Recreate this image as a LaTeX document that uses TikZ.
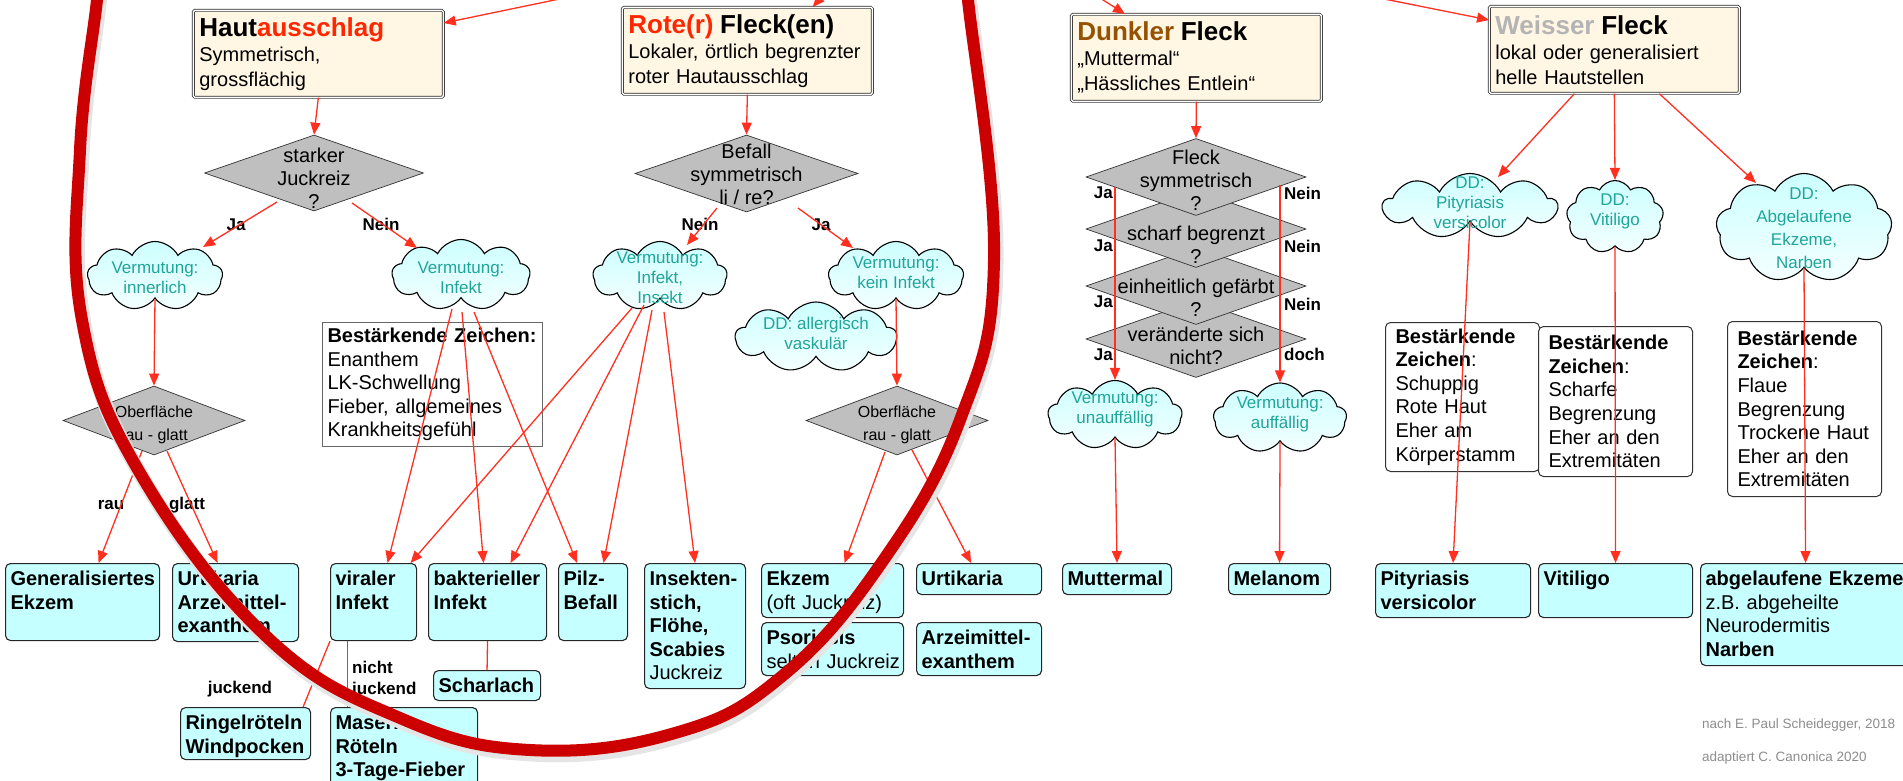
\documentclass[tikz,border=0pt]{standalone}
\usepackage{fontspec}
\setmainfont{Liberation Sans}
\usepackage{xcolor}
\usetikzlibrary{shapes.geometric,shapes.symbols,arrows.meta,calc}

\definecolor{titelrot}{RGB}{255,38,0}
\definecolor{braun}{RGB}{150,82,0}
\definecolor{hellgrau}{RGB}{180,180,180}
\definecolor{creme}{RGB}{255,246,228}
\definecolor{rautegrau}{RGB}{191,191,191}
\definecolor{kastencyan}{RGB}{198,255,255}
\definecolor{wolkeoben}{RGB}{204,255,255}
\definecolor{wolkeunten}{RGB}{244,255,255}
\definecolor{tuerkis}{RGB}{32,165,155}
\definecolor{pfeilrot}{RGB}{255,48,32}
\definecolor{bogenrot}{RGB}{204,0,0}

\newcommand{\kopftitel}{\fontsize{26}{28}\selectfont\bfseries}
\hyphenpenalty=10000
\exhyphenpenalty=10000

\begin{document}
\begin{tikzpicture}[x=1pt, y=-1pt,
        kopf/.style = {rectangle, draw=black!85, line width=0.7pt, double=white, double distance=1.4pt, fill=creme, rounded corners=1.5pt, anchor=north west, inner xsep=6pt, inner ysep=0pt, text width=238pt, minimum height=87pt, align=left, font=\fontsize{20}{25}\selectfont},
        frage/.style = {diamond, draw=black!80, line width=0.7pt, fill=rautegrau, inner sep=0pt, minimum width=220pt, minimum height=77pt},
        ftext/.style = {align=center, inner sep=0pt, font=\fontsize{20}{23}\selectfont},
        wolke/.style = {cloud, cloud puffs=9, cloud puff arc=125, cloud ignores aspect, draw=black, line width=1.1pt, top color=wolkeoben, bottom color=wolkeunten, inner sep=0pt},
        wtext/.style = {align=center, inner sep=0pt, text=tuerkis, font=\fontsize{17}{20}\selectfont},
        zeichen/.style = {rectangle, draw=black!80, line width=1pt, fill=white, rounded corners=5pt, anchor=north west, inner xsep=10pt, inner ysep=0pt, text width=134pt, align=left, font=\fontsize{20}{23.6}\selectfont},
        kasten/.style = {rectangle, draw=black!85, line width=1.1pt, fill=kastencyan, rounded corners=5pt, anchor=north west, inner xsep=5pt, inner ysep=7pt, text height=15pt, text depth=#1, align=left, font=\fontsize{20}{23.5}\selectfont\bfseries},
        jn/.style = {inner sep=0pt, font=\fontsize{17}{21}\selectfont\bfseries},
        pfeil/.style = {draw=pfeilrot, line width=1.3pt, -{Triangle[length=12pt, width=10pt]}},
        linie/.style = {draw=pfeilrot, line width=1.3pt},
        fuss/.style = {inner sep=0pt, anchor=base west, text=black!45, font=\fontsize{13.5}{16}\selectfont}]

    \useasboundingbox (0,0) rectangle (1903,781);
    \clip (0,0) rectangle (1903,781);

    % Kopfkaesten
    \node[kopf] (haut) at (193,10) {{\kopftitel Haut\textcolor{titelrot}{ausschlag}}\\Symmetrisch,\\grossflächig};
    \node[kopf] (rot) at (622,7) {{\kopftitel\textcolor{titelrot}{Rote(r)} Fleck(en)}\\Lokaler, örtlich begrenzter\\roter Hautausschlag};
    \node[kopf] (dunkel) at (1071,14) {{\kopftitel\textcolor{braun}{Dunkler} Fleck}\\„Muttermal“\\„Hässliches Entlein“};
    \node[kopf] (weiss) at (1489,6) {{\kopftitel\textcolor{hellgrau}{Weisser} Fleck}\\lokal oder generalisiert\\helle Hautstellen};

    % Fragen
    \node[frage, minimum width=219pt, minimum height=76pt] (juck) at (314,173) {};
    \node[ftext] (juckT) at ([yshift=-5pt]juck.center) {starker\\Juckreiz\\?};
    \node[frage, minimum width=223pt] (befall) at (746.5,173.5) {};
    \node[ftext] (befallT) at ([yshift=-1pt]befall.center) {Befall\\symmetrisch\\li / re?};
    \node[frage, minimum width=182pt, minimum height=69pt] (oberL) at (154,420.5) {};
    \node[ftext, font=\fontsize{16}{23}\selectfont] (oberLT) at ([yshift=-4pt]oberL.center) {Oberfläche\\rau - glatt};
    \node[frage, minimum width=182pt, minimum height=69pt] (oberR) at (897,420.5) {};
    \node[ftext, font=\fontsize{16}{23}\selectfont] (oberRT) at ([yshift=-4pt]oberR.center) {Oberfläche\\rau - glatt};

    % Stapel beim dunklen Fleck, von unten nach oben
    \node[frage] (veraendert) at (1196,339) {};
    \node[ftext] (veraendertT) at ([yshift=-7pt]veraendert.center) {veränderte sich\\nicht?};
    \node[frage] (einheit) at (1196,286) {};
    \node[ftext] (einheitT) at ([yshift=-12pt]einheit.center) {einheitlich gefärbt\\?};
    \node[frage] (scharf) at (1196,229) {};
    \node[ftext] (scharfT) at ([yshift=-16pt]scharf.center) {scharf begrenzt\\?};
    \node[frage] (fsym) at (1196,177) {};
    \node[ftext] (fsymT) at ([yshift=-3pt]fsym.center) {Fleck\\symmetrisch\\?};

    % Vermutungen
    \node[wolke, minimum width=135pt, minimum height=69pt] (innerlich) at (155,276) {};
    \node[wtext] (innerlichT) at ([yshift=-2pt]innerlich.center) {Vermutung:\\innerlich};
    \node[wolke, minimum width=138pt, minimum height=71pt] (infekt) at (461,275) {};
    \node[wtext] (infektT) at ([yshift=-3pt]infekt.center) {Vermutung:\\Infekt};
    \node[wolke, minimum width=134pt, minimum height=69pt] (insekt) at (660,276) {};
    \node[wtext] (insektT) at ([yshift=-2pt]insekt.center) {Vermutung:\\Infekt,\\Insekt};
    \node[wolke, minimum width=135pt, minimum height=69pt] (kein) at (896,276) {};
    \node[wtext] (keinT) at ([yshift=3pt]kein.center) {Vermutung:\\kein Infekt};
    \node[wolke, minimum width=161pt, minimum height=70pt] (allerg) at (816,337) {};
    \node[wtext] (allergT) at ([yshift=4pt]allerg.center) {DD: allergisch\\vaskulär};
    \node[wolke, minimum width=134pt, minimum height=69pt] (unauff) at (1115,415) {};
    \node[wtext] (unauffT) at ([yshift=6pt]unauff.center) {Vermutung:\\unauffällig};
    \node[wolke, minimum width=133pt, minimum height=70pt] (auff) at (1280,418) {};
    \node[wtext] (auffT) at ([yshift=4pt]auff.center) {Vermutung:\\auffällig};
    \node[wolke, minimum width=174pt, minimum height=65pt] (pityW) at (1470,206) {};
    \node[wtext] (pityWT) at ([yshift=3pt]pityW.center) {DD:\\Pityriasis\\versicolor};
    \node[wolke, minimum width=97pt, minimum height=73pt] (vitW) at (1615,217) {};
    \node[wtext] (vitWT) at ([yshift=6pt]vitW.center) {DD:\\Vitiligo};
    \node[wolke, minimum width=176pt, minimum height=109pt] (abgW) at (1804,228) {};
    \node[wtext, font=\fontsize{17}{23}\selectfont] (abgWT) at (abgW.center) {DD:\\Abgelaufene\\Ekzeme,\\Narben};

    % Bestaerkende Zeichen
    \node[zeichen, sharp corners, draw=black!60, inner xsep=5pt, text width=210pt, minimum height=124pt] (zeichenL) at (322,322) {\textbf{Bestärkende~Zeichen:}\\Enanthem\\LK-Schwellung\\Fieber, allgemeines\\Krankheitsgefühl};
    \node[zeichen, minimum height=149pt] (zeichenA) at (1385,322) {\textbf{Bestärkende}\\\textbf{Zeichen}:\\Schuppig\\Rote Haut\\Eher am\\Körperstamm};
    \node[zeichen, minimum height=150pt] (zeichenB) at (1538,326) {\textbf{Bestärkende}\\\textbf{Zeichen}:\\Scharfe\\Begrenzung\\Eher an den\\Extremitäten};
    \node[zeichen, minimum height=175pt] (zeichenC) at (1727,321) {\textbf{Bestärkende}\\\textbf{Zeichen}:\\Flaue\\Begrenzung\\Trockene~Haut\\Eher an den\\Extremitäten};

    % Diagnosen
    \node[kasten=48pt, text width=144pt] (gen) at (5,563) {Generalisiertes\\Ekzem};
    \node[kasten=49pt, text width=116pt] (urtiA) at (172,563) {Urtikaria\\Arzeimittel-\\exanthem};
    \node[kasten=48pt, text width=76pt] (viral) at (330,563) {viraler\\Infekt};
    \node[kasten=48pt, text width=108pt] (bakt) at (428,563) {bakterieller\\Infekt};
    \node[kasten=48pt, text width=59pt] (pilz) at (558,563) {Pilz-\\Befall};
    \node[kasten=96pt, text width=91pt] (insektK) at (644,563) {Insekten-\\stich,\\Flöhe,\\Scabies\\\mdseries Juckreiz};
    \node[kasten=25pt, text width=132pt] (ekzem) at (761,563) {Ekzem\\\mdseries (oft Juckreiz)};
    \node[kasten=24pt, text width=132pt] (psor) at (761,622) {Psoriasis\\\mdseries selten~Juckreiz};
    \node[kasten=2pt, text width=115pt] (urtiB) at (916,563) {Urtikaria};
    \node[kasten=24pt, text width=115pt] (arznei) at (916,622) {Arzeimittel-\\exanthem};
    \node[kasten=1pt, text width=97pt] (scharlach) at (433,670) {Scharlach};
    \node[kasten=23pt, text width=120pt] (ringel) at (180,707) {Ringelröteln\\Windpocken};
    \node[kasten=61pt, text width=137pt] (masern) at (330,707) {Masern\\Röteln\\3-Tage-Fieber};
    \node[kasten=2pt, text width=99pt] (mutter) at (1062,563) {Muttermal};
    \node[kasten=2pt, text width=92pt] (melanom) at (1228,563) {Melanom};
    \node[kasten=25pt, text width=145pt] (pity) at (1375,563) {Pityriasis\\versicolor};
    \node[kasten=25pt, text width=144pt] (vit) at (1538,563) {Vitiligo};
    \node[kasten=73pt, text width=200pt] (abg) at (1700,563) {abgelaufene~Ekzeme\\\mdseries z.B. abgeheilte\\Neurodermitis\\\bfseries Narben};

    % Beschriftungen
    \node[jn] (ja1) at (236,225) {Ja};
    \node[jn] (nein1) at (381,224) {Nein};
    \node[jn] (nein2) at (700,224) {Nein};
    \node[jn] (ja2) at (821,225) {Ja};
    \foreach \y in {193,246,302,355}
        \node[jn, anchor=east] (ja\y) at (1113,\y) {Ja};
    \foreach \y in {193,246,304}
        \node[jn, anchor=west] (nein\y) at (1284,\y) {Nein};
    \node[jn, anchor=west] (doch) at (1284,354) {doch};
    \node[jn] (rau) at (111,505) {rau};
    \node[jn] (glatt) at (187,505) {glatt};
    \node[jn] (juckend) at (240,689) {juckend};
    \node[jn, align=left, anchor=west] (nichtj) at (352,680) {nicht\\juckend};

    % Zuleitungen von oben
    \coordinate (w1) at (892,-70);
    \coordinate (w2) at (880,-70);
    \coordinate (w3) at (1000,-66);
    \coordinate (w4) at (1040,-70);
    \draw[pfeil] (w1) -- ([yshift=-13pt]haut.north east);
    \draw[pfeil] (w2) -- ([xshift=-60pt]rot.north east);
    \draw[pfeil] (w3) -- ([xshift=54pt]dunkel.north west);
    \draw[pfeil] (w4) -- ([yshift=-14pt]weiss.north west);

    % Hautausschlag
    \draw[pfeil] (haut.south) -- (juck.north);
    \draw[pfeil] ($(juck)+(-37,29)$) -- ($(innerlich)+(48,-29)$);
    \draw[pfeil] ($(juck)+(38,30)$) -- ($(infekt)+(-44,-27)$);
    \draw[pfeil] (innerlich.south) -- (oberL.north);
    \draw[pfeil] ($(oberL)+(-12,30.5)$) -- ([xshift=16pt]gen.north);
    \draw[pfeil] ($(oberL)+(13,30.5)$) -- ([xshift=-18pt]urtiA.north);
    \draw[pfeil] ($(infekt)+(-9,34)$) -- ([xshift=14pt]viral.north);
    \draw[pfeil] ($(infekt)+(1,37)$) -- ([xshift=-4pt]bakt.north);
    \draw[pfeil] ($(infekt)+(13,37)$) -- ([xshift=-16pt]pilz.north);

    % Roter Fleck
    \draw[pfeil] (rot.south) -- (befall.north);
    \draw[pfeil] ($(befall)+(-29.5,34.5)$) -- ($(insekt)+(27,-31)$);
    \draw[pfeil] ($(befall)+(51.5,34.5)$) -- ($(kein)+(-43,-28)$);
    \draw[pfeil] ($(insekt)+(-28,32)$) -- ([xshift=37pt]viral.north);
    \draw[pfeil] ($(insekt)+(-16,29)$) -- ([xshift=23pt]bakt.north);
    \draw[pfeil] ($(insekt)+(-8,34)$) -- ([xshift=10.5pt]pilz.north);
    \draw[pfeil] ($(insekt)+(4,36)$) -- (insektK.north);
    \draw[pfeil] (kein.south) -- (oberR.north);
    \draw[pfeil] ($(oberR)+(-12,31.5)$) -- ([xshift=12pt]ekzem.north);
    \draw[pfeil] ($(oberR)+(15,29.5)$) -- ([xshift=-8pt]urtiB.north);

    % Unterformen
    \draw[linie] (viral.south west) -- ([xshift=-8pt]ringel.north east);
    \draw[linie] ([xshift=-26pt]viral.south) -- ([xshift=-26pt]viral.south |- masern.north);
    \draw[linie] (bakt.south) -- (scharlach.north);

    % Dunkler Fleck
    \draw[pfeil] (dunkel.south) -- (fsym.north);
    \draw[pfeil] ($(fsym)+(-81,10)$) -- (unauff.north);
    \draw[pfeil] ($(fsym)+(84,8)$) -- (auff.north);
    \draw[pfeil] (unauff.south) -- (mutter.north);
    \draw[pfeil] (auff.south) -- (melanom.north);

    % Weisser Fleck
    \draw[pfeil] ([xshift=-40pt]weiss.south) -- ($(pityW)+(28,-29)$);
    \draw[pfeil] (weiss.south) -- (vitW.north);
    \draw[pfeil] ([xshift=45pt]weiss.south) -- ($(abgW)+(-48,-45)$);
    \draw[pfeil] (pityW.south) -- (pity.north);
    \draw[pfeil] (vitW.south) -- (vit.north);
    \draw[pfeil] (abgW.south) -- (abg.north);

    % Quelle
    \node[fuss] (quelle1) at (1702,728) {nach E. Paul Scheidegger, 2018};
    \node[fuss] (quelle2) at (1702,761) {adaptiert C. Canonica 2020};

    % Markierung
    \draw[line width=15pt, black!10, xshift=2pt, yshift=-4pt] plot[smooth, tension=0.7] coordinates {(100,-40) (97,0) (80,150) (82,320) (140,473) (267,637) (400,718) (530,750) (675,733) (781,677) (880,565) (960,420) (994,260) (968,0) (962,-40)};
    \draw[line width=12pt, bogenrot] plot[smooth, tension=0.7] coordinates {(100,-40) (97,0) (80,150) (82,320) (140,473) (267,637) (400,718) (530,750) (675,733) (781,677) (880,565) (960,420) (994,260) (968,0) (962,-40)};

\end{tikzpicture}
\end{document}
